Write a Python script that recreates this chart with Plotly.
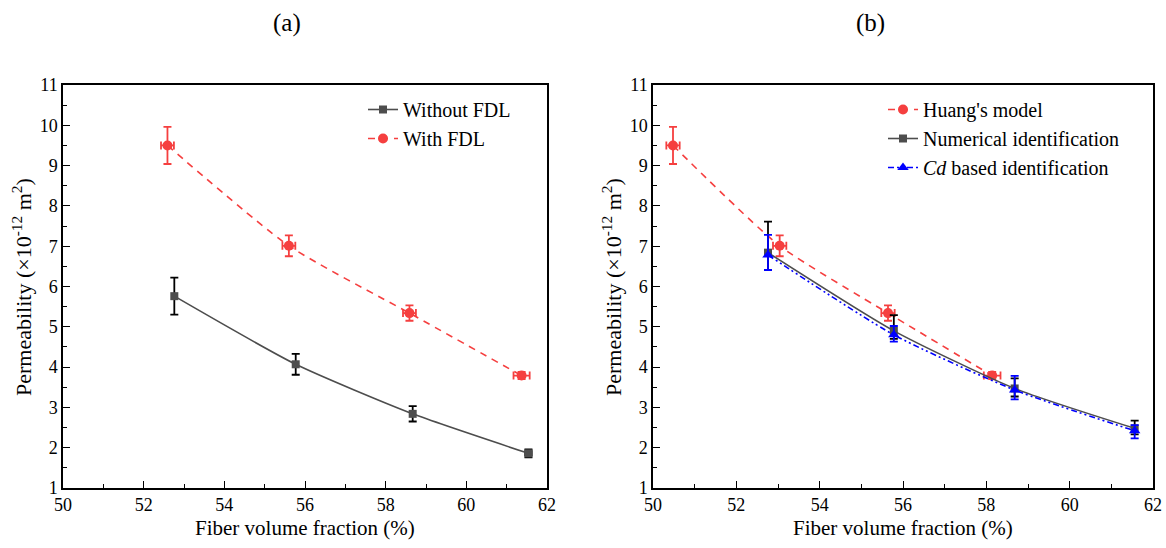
import plotly.graph_objects as go
from plotly.subplots import make_subplots

# ---- Data: panel (a) ----
a_without_x = [52.76, 55.77, 58.67, 61.54]
a_without_y = [5.76, 4.07, 2.84, 1.86]
a_without_ey = [0.46, 0.26, 0.19, 0.10]
a_without_ex = [0.05, 0.05, 0.05, 0.08]

a_with_x = [52.59, 55.60, 58.59, 61.37]
a_with_y = [9.50, 7.01, 5.34, 3.79]
a_with_ey = [0.46, 0.26, 0.19, 0.09]
a_with_ex = [0.16, 0.16, 0.16, 0.20]

# ---- Data: panel (b) ----
b_huang_x = [50.48, 53.04, 55.64, 58.14]
b_huang_y = [9.50, 7.01, 5.34, 3.79]
b_huang_ey = [0.46, 0.26, 0.19, 0.09]
b_huang_ex = [0.16, 0.16, 0.16, 0.20]

b_num_x = [52.76, 55.78, 58.68, 61.56]
b_num_y = [6.84, 4.90, 3.47, 2.48]
b_num_ey_plus = [0.77, 0.39, 0.25, 0.19]
b_num_ey_minus = [0.43, 0.20, 0.20, 0.15]

b_cd_x = [52.76, 55.78, 58.68, 61.56]
b_cd_y = [6.78, 4.80, 3.43, 2.42]
b_cd_ey_plus = [0.50, 0.22, 0.35, 0.14]
b_cd_ey_minus = [0.37, 0.17, 0.23, 0.19]

legend_a = ["Without FDL", "With FDL"]
legend_b = ["Huang's model", "Numerical identification", "<i>Cd</i> based identification"]

RED = "#F53F3F"
GRAY = "#4D4D4D"
BLUE = "#0000FF"
FONT = "Liberation Serif, DejaVu Serif, serif"

fig = make_subplots(rows=1, cols=2)

# panel (a)
fig.add_trace(go.Scatter(
    x=a_without_x, y=a_without_y, name=legend_a[0], mode="lines+markers",
    line=dict(color=GRAY, width=1.6, shape="spline", smoothing=0.6),
    marker=dict(symbol="square", size=8, color=GRAY),
    error_y=dict(type="data", array=a_without_ey, color="black", thickness=1.8, width=4),
    error_x=dict(type="data", array=a_without_ex, color="black", thickness=1.8, width=3),
    legend="legend"), row=1, col=1)
fig.add_trace(go.Scatter(
    x=a_with_x, y=a_with_y, name=legend_a[1], mode="lines+markers",
    line=dict(color=RED, width=1.6, dash="7px,6px", shape="spline", smoothing=0.6),
    marker=dict(symbol="circle", size=10, color=RED),
    error_y=dict(type="data", array=a_with_ey, color=RED, thickness=1.8, width=4),
    error_x=dict(type="data", array=a_with_ex, color=RED, thickness=1.8, width=4),
    legend="legend"), row=1, col=1)

# panel (b)
fig.add_trace(go.Scatter(
    x=b_huang_x, y=b_huang_y, name=legend_b[0], mode="lines+markers",
    line=dict(color=RED, width=1.6, dash="7px,6px", shape="spline", smoothing=0.6),
    marker=dict(symbol="circle", size=10, color=RED),
    error_y=dict(type="data", array=b_huang_ey, color=RED, thickness=1.8, width=4),
    error_x=dict(type="data", array=b_huang_ex, color=RED, thickness=1.8, width=4),
    legend="legend2"), row=1, col=2)
fig.add_trace(go.Scatter(
    x=b_num_x, y=b_num_y, name=legend_b[1], mode="lines+markers",
    line=dict(color=GRAY, width=1.6, shape="spline", smoothing=0.6),
    marker=dict(symbol="square", size=8, color=GRAY),
    error_y=dict(type="data", array=b_num_ey_plus, arrayminus=b_num_ey_minus,
                 symmetric=False, color="black", thickness=1.8, width=4),
    legend="legend2"), row=1, col=2)
fig.add_trace(go.Scatter(
    x=b_cd_x, y=b_cd_y, name=legend_b[2], mode="lines+markers",
    line=dict(color=BLUE, width=1.6, dash="6px,3px,2px,3px,2px,3px", shape="spline", smoothing=0.6),
    marker=dict(symbol="triangle-up", size=10, color=BLUE),
    error_y=dict(type="data", array=b_cd_ey_plus, arrayminus=b_cd_ey_minus,
                 symmetric=False, color=BLUE, thickness=1.8, width=4),
    legend="legend2"), row=1, col=2)

ax_common = dict(showline=True, linecolor="black", linewidth=1.5, mirror=True,
                 ticks="inside", ticklen=7, tickwidth=1.3, tickcolor="black",
                 showgrid=False, zeroline=False, automargin=False,
                 tickfont=dict(family=FONT, size=18, color="black"))

for c, dom in [(1, [63/1166, 547/1166]), (2, [653/1166, 1153/1166])]:
    fig.update_xaxes(range=[50, 62], dtick=2, tick0=50, domain=dom,
                     minor=dict(ticks="inside", ticklen=4, dtick=1, tickcolor="black", tickwidth=1.2),
                     row=1, col=c, **ax_common)
    fig.update_yaxes(range=[1, 11], dtick=1, tick0=1, domain=[1-488/548, 1-85/548],
                     minor=dict(ticks="inside", ticklen=4, dtick=0.5, tickcolor="black", tickwidth=1.2),
                     row=1, col=c, **ax_common)

ann = []
ytitle = "Permeability (×10<sup>-12</sup> m<sup>2</sup>)"
for xp, lab in [(287, "(a)"), (870, "(b)")]:
    ann.append(dict(x=xp/1166, y=1-23/548, xref="paper", yref="paper", text=lab, showarrow=False,
                    font=dict(family=FONT, size=25, color="black"), xanchor="center", yanchor="middle"))
for xp in [305, 903]:
    ann.append(dict(x=xp/1166, y=1-528/548, xref="paper", yref="paper", text="Fiber volume fraction (%)",
                    showarrow=False, font=dict(family=FONT, size=21, color="black"),
                    xanchor="center", yanchor="middle"))
for xp in [22, 612]:
    ann.append(dict(x=xp/1166, y=1-287/548, xref="paper", yref="paper", text=ytitle, textangle=-90,
                    showarrow=False, font=dict(family=FONT, size=22, color="black"),
                    xanchor="center", yanchor="middle"))

fig.update_layout(
    width=1166, height=548, margin=dict(l=0, r=0, t=0, b=0),
    plot_bgcolor="white", paper_bgcolor="white",
    font=dict(family=FONT, color="black"),
    annotations=ann,
    legend=dict(x=363/1166, y=1-90/548, xanchor="left", yanchor="top", bgcolor="rgba(0,0,0,0)",
                font=dict(family=FONT, size=20, color="black"), tracegroupgap=0, itemwidth=30),
    legend2=dict(x=883/1166, y=1-90/548, xanchor="left", yanchor="top", bgcolor="rgba(0,0,0,0)",
                 font=dict(family=FONT, size=20, color="black"), tracegroupgap=0, itemwidth=30),
)

fig.write_html("out.html")
